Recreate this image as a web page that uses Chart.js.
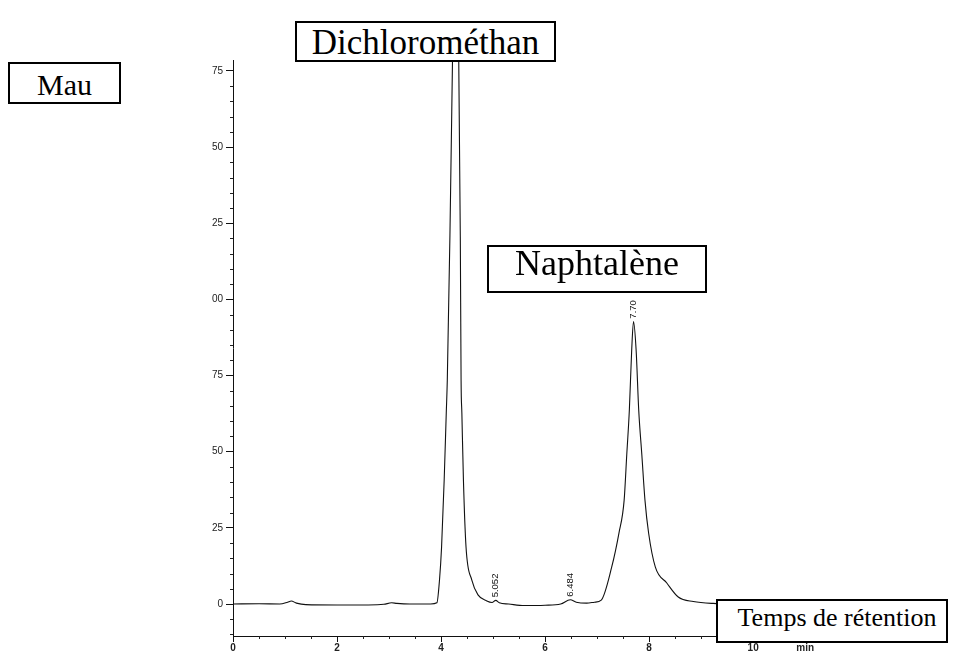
<!DOCTYPE html>
<html>
<head>
<meta charset="utf-8">
<script src="https://cdn.jsdelivr.net/npm/chart.js@4"></script>
<style>
  html, body { margin: 0; padding: 0; background: #fff; }
  #wrap { position: relative; width: 960px; height: 660px; }
  canvas { position: absolute; left: 0; top: 0; }
  .tag {
    position: absolute; box-sizing: border-box; background: #fff;
    border: 2px solid #000; font-family: "Liberation Serif", "Times New Roman", serif;
    color: #000; display: flex; align-items: center; justify-content: center;
    white-space: nowrap; line-height: 1;
  }
</style>
</head>
<body>
<div id="wrap">
  <canvas id="c" width="960" height="660"></canvas>
  <div class="tag" style="left:8px;top:62px;width:113px;height:42px;font-size:30px;padding-top:4px;">Mau</div>
  <div class="tag" style="left:295px;top:21px;width:261px;height:41px;font-size:35px;padding-top:2px;">Dichlorométhan</div>
  <div class="tag" style="left:487px;top:245px;width:220px;height:48px;font-size:36px;padding-bottom:12px;">Naphtalène</div>
  <div class="tag" style="left:716px;top:599px;width:232px;height:44px;font-size:26px;padding-bottom:6px;padding-left:10px;">Temps de rétention</div>
</div>
<script>
// Retention time (min) and detector signal of the chromatogram trace
const retentionTime = [
  0.00, 0.50, 0.90, 1.05, 1.12, 1.22, 1.40, 2.00, 2.60, 2.90, 3.05, 3.15, 3.40, 3.80,
  3.92, 3.97, 4.01, 4.06, 4.10, 4.12, 4.17, 4.22, 4.28, 4.34, 4.37, 4.385, 4.40, 4.43,
  4.48, 4.59, 4.71, 4.88, 4.98, 5.052, 5.12, 5.30, 5.60, 6.00, 6.30, 6.484, 6.60, 6.80,
  6.95, 7.08, 7.28, 7.42, 7.52, 7.57, 7.62, 7.665, 7.70, 7.75, 7.80, 7.86, 7.92, 7.99,
  8.12, 8.34, 8.56, 8.85, 9.23, 9.60, 10.5, 11.5, 12.5, 13.4
];
const signal = [
  0.0, 0.1, 0.0, 0.6, 1.0, 0.3, -0.2, -0.3, -0.3, -0.1, 0.4, 0.2, 0.0, 0.0,
  0.4, 7.9, 18.7, 40.7, 62.7, 73.5, 120.5, 178.6, 250, 178.6, 120.5, 73.5, 62.7, 40.7,
  18.7, 7.9, 3.0, 1.0, 0.5, 1.2, 0.4, 0.0, -0.5, -0.4, 0.0, 1.4, 0.6, 0.3,
  0.6, 1.3, 12.1, 23.3, 34.1, 49, 63.7, 83.4, 92.7, 83.4, 63.7, 49, 34.1, 23.3,
  12.1, 6.9, 2.3, 0.8, 0.2, 0.1, 0.1, 0.1, 0.1, 0.1
];

// Integrated peaks: retention time label and apex height
const peakTimes = [5.052, 6.484, 7.70];
const peakHeights = [1.2, 1.4, 92.7];
const peakLabels = ['5.052', '6.484', '7.70'];

// Axis ticks
const yTickValues = [0, 25, 50, 75, 100, 125, 150, 175];
const yTickLabels = ['0', '25', '50', '75', '00', '25', '50', '75'];
const yMinorTicks = [-10, -5, 5, 10, 15, 20, 30, 35, 40, 45, 55, 60, 65, 70, 80, 85, 90, 95,
  105, 110, 115, 120, 130, 135, 140, 145, 155, 160, 165, 170];
const xTickValues = [0, 2, 4, 6, 8, 10, 11, 12];
const xTickLabels = ['0', '2', '4', '6', '8', '10', 'min', ''];
const xMinorTicks = [0.5, 1, 1.5, 2.5, 3, 3.5, 4.5, 5, 5.5, 6.5, 7, 7.5, 8.5, 9, 9.5,
  10.5, 11.5, 12.5, 13];

const points = retentionTime.map((t, i) => ({ x: t, y: signal[i] }));

// Short minor tick marks along both axes
const minorTickPlugin = {
  id: 'minorTicks',
  afterDraw(chart) {
    const ctx = chart.ctx, x = chart.scales.x, y = chart.scales.y, a = chart.chartArea;
    ctx.save();
    ctx.strokeStyle = '#222';
    ctx.lineWidth = 1;
    ctx.beginPath();
    yMinorTicks.forEach(v => {
      const py = Math.round(y.getPixelForValue(v)) + 0.5;
      ctx.moveTo(a.left - 3, py); ctx.lineTo(a.left, py);
    });
    xMinorTicks.forEach(v => {
      const px = Math.round(x.getPixelForValue(v)) + 0.5;
      ctx.moveTo(px, a.bottom); ctx.lineTo(px, a.bottom + 3);
    });
    ctx.stroke();
    ctx.restore();
  }
};

// Rotated retention-time annotations above the integrated peaks
const peakLabelPlugin = {
  id: 'peakLabels',
  afterDatasetsDraw(chart) {
    const ctx = chart.ctx, x = chart.scales.x, y = chart.scales.y;
    ctx.save();
    ctx.fillStyle = '#111';
    ctx.font = '9.5px "Liberation Sans", Arial, sans-serif';
    ctx.textAlign = 'left';
    ctx.textBaseline = 'middle';
    peakTimes.forEach((t, i) => {
      const px = x.getPixelForValue(t);
      const py = y.getPixelForValue(peakHeights[i]) - 3;
      ctx.save();
      ctx.translate(px, py);
      ctx.rotate(-Math.PI / 2);
      ctx.fillText(peakLabels[i], 0, 0);
      ctx.restore();
    });
    ctx.restore();
  }
};

new Chart(document.getElementById('c'), {
  type: 'line',
  data: {
    datasets: [{
      data: points,
      borderColor: '#111',
      borderWidth: 1.1,
      pointRadius: 0,
      cubicInterpolationMode: 'monotone',
      fill: false
    }]
  },
  options: {
    responsive: false,
    animation: false,
    events: [],
    layout: { padding: { top: 60, right: 30, left: 0, bottom: 0 } },
    plugins: { legend: { display: false }, tooltip: { enabled: false } },
    scales: {
      x: {
        type: 'linear',
        min: 0,
        max: 13.4,
        afterFit(s) { s.height = 24; },
        afterBuildTicks(s) { s.ticks = xTickValues.map(v => ({ value: v })); },
        border: { display: true, color: '#111', width: 1 },
        grid: { drawOnChartArea: false, drawTicks: true, tickLength: 6, color: '#111' },
        ticks: {
          autoSkip: false, maxRotation: 0, padding: 0,
          color: '#222',
          font: { family: '"Liberation Sans", Arial, sans-serif', size: 10, weight: 'bold' },
          callback(v, i) { return xTickLabels[i]; }
        }
      },
      y: {
        type: 'linear',
        min: -10.5,
        max: 178.6,
        afterFit(s) { s.width = 233; },
        afterBuildTicks(s) { s.ticks = yTickValues.map(v => ({ value: v })); },
        border: { display: true, color: '#111', width: 1 },
        grid: { drawOnChartArea: false, drawTicks: true, tickLength: 7, color: '#111' },
        ticks: {
          autoSkip: false, padding: 3,
          color: '#222',
          font: { family: '"Liberation Sans", Arial, sans-serif', size: 10 },
          callback(v, i) { return yTickLabels[i]; }
        }
      }
    }
  },
  plugins: [minorTickPlugin, peakLabelPlugin]
});
</script>
</body>
</html>
